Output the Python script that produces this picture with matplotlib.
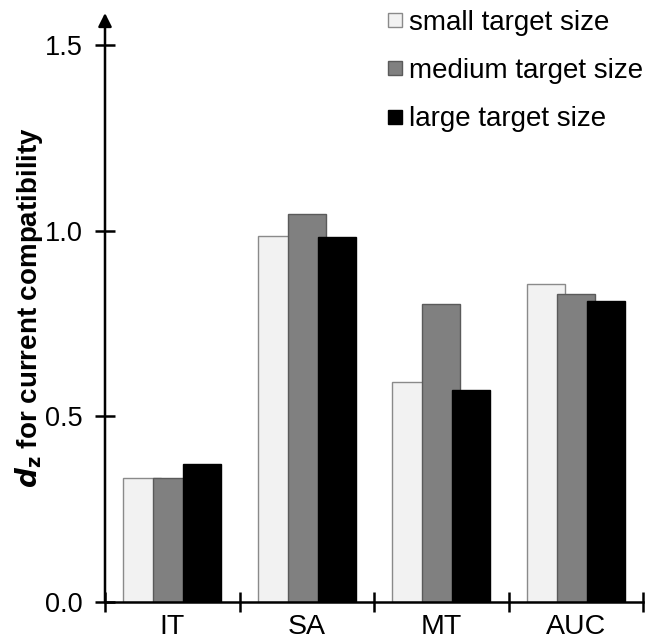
import matplotlib
matplotlib.use("Agg")
import matplotlib.pyplot as plt
from matplotlib.lines import Line2D
import numpy as np

categories = ["IT", "SA", "MT", "AUC"]
series_names = ["small target size", "medium target size", "large target size"]
small = [0.334, 0.986, 0.591, 0.856]
medium = [0.334, 1.045, 0.802, 0.829]
large = [0.370, 0.982, 0.569, 0.809]
yticks = [0.0, 0.5, 1.0, 1.5]
ytick_labels = ["0.0", "0.5", "1.0", "1.5"]

plt.rcParams['font.family'] = ['Liberation Sans', 'DejaVu Sans']

fig = plt.figure(figsize=(6.5, 6.4), dpi=100)
ax = fig.add_axes([105/650, 1-601.7/640, (643-105)/650, (601.7-13)/640])

x = np.arange(len(categories))
step = 0.223
width = 0.28
fills = ["#f2f2f2", "#808080", "#000000"]
edges = ["#8a8a8a", "#5a5a5a", "#000000"]
for i, vals in enumerate([small, medium, large]):
    ax.bar(x + (i - 1) * step, vals, width=width, color=fills[i],
           edgecolor=edges[i], linewidth=1.0, zorder=2 + i)

ax.set_xlim(-0.5, 3.5)
ax.set_ylim(0, 1.586)

for s in ["top", "right", "left"]:
    ax.spines[s].set_visible(False)
ax.spines["bottom"].set_linewidth(1.8)
ax.spines["bottom"].set_zorder(10)

# y axis with arrow
ax.annotate("", xy=(0, 1.0), xytext=(0, 0), xycoords="axes fraction",
            arrowprops=dict(arrowstyle="-|>", lw=1.8, color="black",
                            mutation_scale=20, shrinkA=0, shrinkB=0),
            zorder=10)

ax.set_yticks(yticks)
ax.set_yticklabels(ytick_labels)
ax.set_xticks(np.arange(-0.5, 4.0, 1.0))
ax.set_xticklabels([])
ax.set_xticks(x, minor=True)
ax.set_xticklabels(categories, minor=True)

ax.tick_params(axis="y", direction="inout", length=14, width=1.8, labelsize=19.5, pad=9)
ax.tick_params(axis="x", which="major", direction="inout", length=14, width=1.8)
ax.tick_params(axis="x", which="minor", length=0, labelsize=20.5, pad=9)

ax.set_ylabel(r"$\boldsymbol{d}_{\mathbf{z}}$ for current compatibility", fontsize=20,
              fontweight="bold", labelpad=0)

handles = [Line2D([0], [0], marker="s", linestyle="none", markersize=9.5,
                  markerfacecolor=fills[i], markeredgecolor=edges[i], markeredgewidth=1.0)
           for i in range(3)]
leg = ax.legend(handles, series_names, loc="upper left",
                bbox_to_anchor=(387/650, 1 - 10/640), bbox_transform=fig.transFigure,
                frameon=False, fontsize=20, handlelength=0.6, handletextpad=0.2,
                labelspacing=0.8, borderpad=0, borderaxespad=0)

fig.savefig("out.png", dpi=100)
